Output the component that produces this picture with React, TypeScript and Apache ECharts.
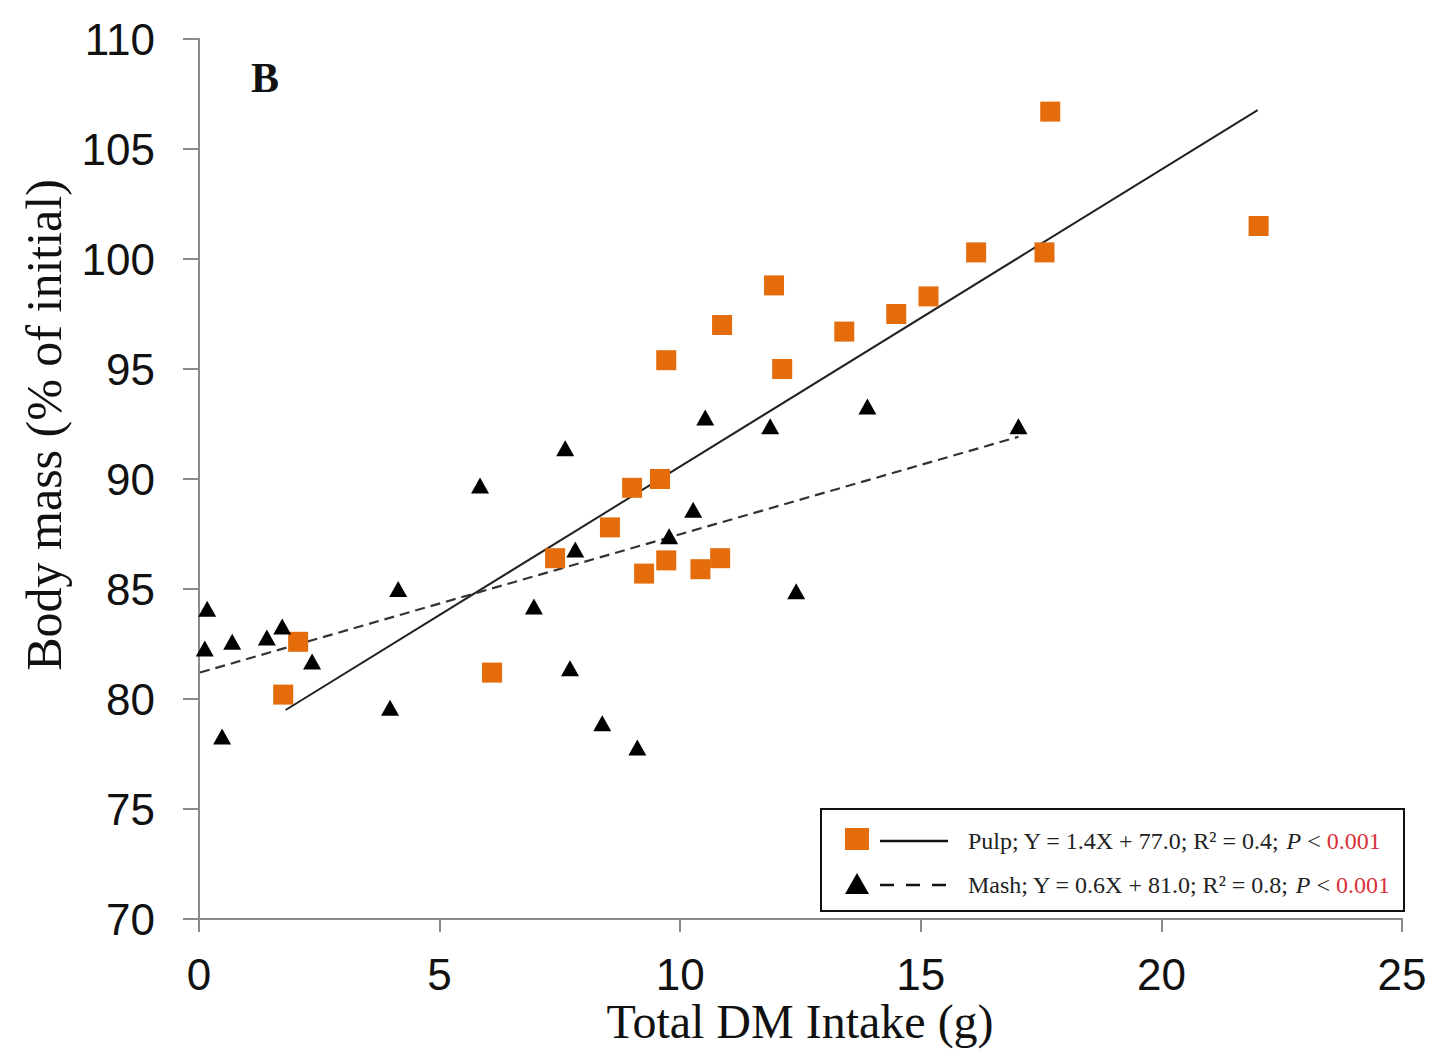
import React, { useEffect, useRef } from "react";
import * as echarts from "echarts";

const pulpX = [1.75, 2.06, 6.09, 7.4, 8.54, 9.0, 9.25, 9.58, 9.71, 9.71, 10.42, 10.83, 10.87, 11.95, 12.12, 13.41, 14.49, 15.16, 16.15, 17.57, 17.69, 22.02];
const pulpY = [80.2, 82.6, 81.2, 86.4, 87.8, 89.6, 85.7, 90.0, 86.3, 95.4, 85.9, 86.4, 97.0, 98.8, 95.0, 96.7, 97.5, 98.3, 100.3, 100.3, 106.7, 101.5];

const mashX = [0.17, 0.12, 0.69, 1.41, 1.73, 2.35, 0.48, 4.14, 3.97, 5.84, 6.96, 7.61, 7.82, 7.71, 8.38, 9.11, 9.77, 10.27, 10.52, 12.41, 11.87, 13.89, 17.03];
const mashY = [84.1, 82.3, 82.6, 82.8, 83.3, 81.7, 78.3, 85.0, 79.6, 89.7, 84.2, 91.4, 86.8, 81.4, 78.9, 77.8, 87.4, 88.6, 92.8, 84.9, 92.4, 93.3, 92.4];

// fitted lines as drawn: slope, intercept, x range
const pulpFit = { slope: 1.35, intercept: 77.07, xRange: [1.8, 22.0] };
const mashFit = { slope: 0.63, intercept: 81.19, xRange: [0.02, 17.03] };

const xTicks = { min: 0, max: 25, interval: 5 };
const yTicks = { min: 70, max: 110, interval: 5 };

const xTitle = "Total DM Intake (g)";
const yTitle = "Body mass (% of initial)";
const panelLabel = "B";
const pulpLegend = "Pulp; Y = 1.4X + 77.0; R² = 0.4; ";
const mashLegend = "Mash; Y = 0.6X + 81.0; R² = 0.8; ";
const pValue = "0.001";

const ORANGE = "#E46C0A";
const SERIF = "'Liberation Serif', 'Times New Roman', serif";
const SANS = "'Liberation Sans', Arial, sans-serif";

function fitPoints(f: { slope: number; intercept: number; xRange: number[] }) {
  return f.xRange.map((x) => [x, f.slope * x + f.intercept]);
}

export default function App() {
  const ref = useRef<HTMLDivElement>(null);
  useEffect(() => {
    if (!ref.current) return;
    const chart = echarts.init(ref.current, undefined, { renderer: "svg" });
    const legendRich = {
      a: { fontFamily: SERIF, fontSize: 24, fill: "#222", color: "#222" },
      i: { fontFamily: SERIF, fontSize: 24, fontStyle: "italic", fill: "#222", color: "#222" },
      r: { fontFamily: SERIF, fontSize: 24, fill: "#D9303A", color: "#D9303A" },
    };
    const option: any = {
      animation: false,
      backgroundColor: "#ffffff",
      grid: { left: 199, right: 33, top: 39, bottom: 130, containLabel: false },
      xAxis: {
        type: "value",
        min: xTicks.min,
        max: xTicks.max,
        interval: xTicks.interval,
        axisLine: { show: true, lineStyle: { color: "#8a8a8a", width: 2 } },
        axisTick: { show: true, inside: false, length: 13, lineStyle: { color: "#8a8a8a", width: 2 } },
        axisLabel: { color: "#111", fontFamily: SANS, fontSize: 44, margin: 33 },
        splitLine: { show: false },
      },
      yAxis: {
        type: "value",
        min: yTicks.min,
        max: yTicks.max,
        interval: yTicks.interval,
        axisLine: { show: true, lineStyle: { color: "#8a8a8a", width: 2 } },
        axisTick: { show: true, inside: false, length: 16, lineStyle: { color: "#8a8a8a", width: 2 } },
        axisLabel: { color: "#111", fontFamily: SANS, fontSize: 44, margin: 44 },
        splitLine: { show: false },
      },
      series: [
        {
          type: "line",
          data: fitPoints(pulpFit),
          symbol: "none",
          lineStyle: { color: "#222", width: 2 },
          z: 1,
        },
        {
          type: "line",
          data: fitPoints(mashFit),
          symbol: "none",
          lineStyle: { color: "#333", width: 2.2, type: [10, 6] },
          z: 1,
        },
        {
          type: "scatter",
          data: mashX.map((x, i) => [x, mashY[i]]),
          symbol: "triangle",
          symbolSize: [18, 16],
          itemStyle: { color: "#000", opacity: 1 },
          z: 3,
        },
        {
          type: "scatter",
          data: pulpX.map((x, i) => [x, pulpY[i]]),
          symbol: "rect",
          symbolSize: 20,
          itemStyle: { color: ORANGE, opacity: 1 },
          z: 2,
        },
      ],
      graphic: [
        {
          type: "text",
          x: 800,
          y: 1021,
          style: { text: xTitle, font: `48px ${SERIF}`, fill: "#111", textAlign: "center", textVerticalAlign: "middle" },
        },
        {
          type: "text",
          x: 44,
          y: 425,
          rotation: Math.PI / 2,
          style: { text: yTitle, font: `50px ${SERIF}`, fill: "#111", textAlign: "center", textVerticalAlign: "middle" },
        },
        {
          type: "text",
          x: 265,
          y: 78,
          style: { text: panelLabel, font: `bold 42px ${SERIF}`, fill: "#111", textAlign: "center", textVerticalAlign: "middle" },
        },
        {
          type: "rect",
          shape: { x: 821, y: 809, width: 583, height: 102 },
          style: { fill: "#fff", stroke: "#111", lineWidth: 2 },
          z: 10,
        },
        {
          type: "rect",
          shape: { x: 845, y: 828, width: 24, height: 22 },
          style: { fill: ORANGE },
          z: 11,
        },
        {
          type: "line",
          shape: { x1: 880, y1: 841, x2: 948, y2: 841 },
          style: { stroke: "#111", lineWidth: 2.5 },
          z: 11,
        },
        {
          type: "polygon",
          shape: { points: [[857, 873], [845, 894], [869, 894]] },
          style: { fill: "#000" },
          z: 11,
        },
        {
          type: "line",
          shape: { x1: 880, y1: 885, x2: 948, y2: 885 },
          style: { stroke: "#111", lineWidth: 2.5, lineDash: [14, 12] },
          z: 11,
        },
        {
          type: "text",
          x: 968,
          y: 841,
          z: 11,
          style: {
            text: `{a|${pulpLegend}}{i|P}{a| < }{r|${pValue}}`,
            rich: legendRich,
            textVerticalAlign: "middle",
            verticalAlign: "middle",
          },
        },
        {
          type: "text",
          x: 968,
          y: 885,
          z: 11,
          style: {
            text: `{a|${mashLegend}}{i|P}{a| < }{r|${pValue}}`,
            rich: legendRich,
            textVerticalAlign: "middle",
            verticalAlign: "middle",
          },
        },
      ],
    };
    chart.setOption(option);
    return () => chart.dispose();
  }, []);
  return (
    <div
      ref={ref}
      style={{ position: "absolute", left: 0, top: 0, width: 1435, height: 1049, background: "#fff" }}
    />
  );
}
